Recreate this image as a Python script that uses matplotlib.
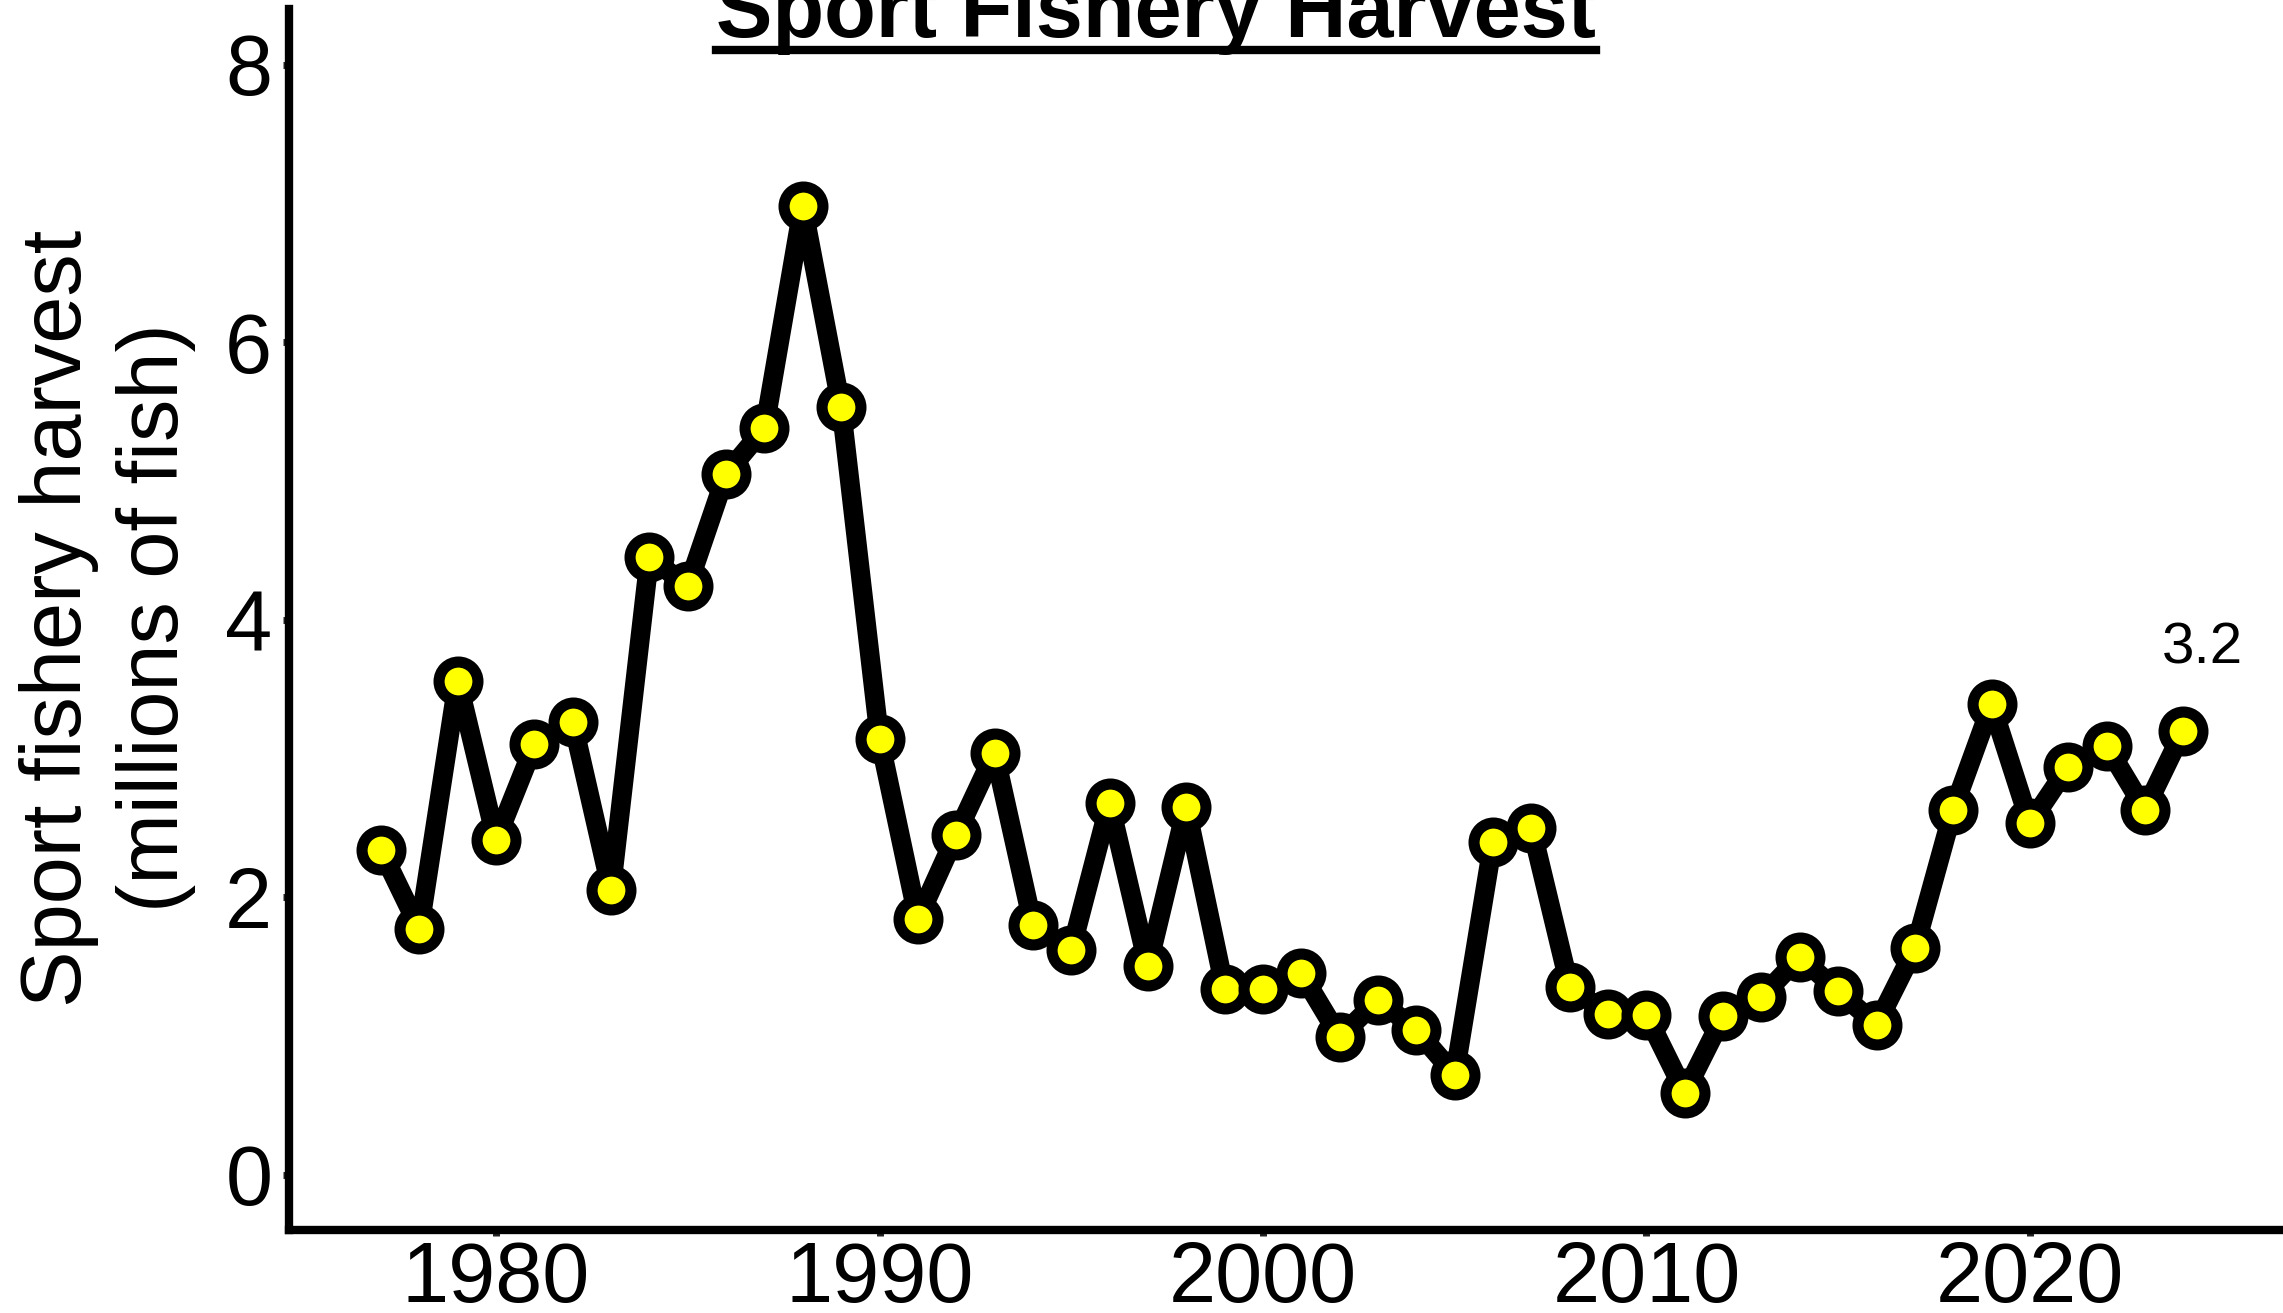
import matplotlib
matplotlib.use("Agg")
import matplotlib.pyplot as plt
from matplotlib.lines import Line2D

plt.rcParams["font.family"] = ["Liberation Sans", "DejaVu Sans"]

# sport fishery harvest, millions of fish
years = list(range(1977, 2025))
harvest = [
    2.34, 1.77, 3.56, 2.41, 3.10, 3.26, 2.05, 4.45, 4.24, 5.05,
    5.38, 6.98, 5.53, 3.14, 1.84, 2.45, 3.04, 1.80, 1.62, 2.68,
    1.50, 2.65, 1.34, 1.34, 1.45, 0.99, 1.26, 1.04, 0.72, 2.40,
    2.50, 1.35, 1.16, 1.15, 0.59, 1.14, 1.28, 1.57, 1.32, 1.08,
    1.63, 2.63, 3.39, 2.53, 2.94, 3.09, 2.63, 3.20,
]
y_ticks = [0, 2, 4, 6, 8]
x_ticks = [1980, 1990, 2000, 2010, 2020]
title = "Sport Fishery Harvest"
y_label = "Sport fishery harvest\n(millions of fish)"

W, H = 2283, 1313
fig = plt.figure(figsize=(W / 100, H / 100), dpi=100)
ax = fig.add_axes([289 / W, 1 - 1230 / H, 1 - 289 / W, (1230 - 9) / H])

ax.plot(years, harvest, color="black", lw=14, solid_joinstyle="round",
        solid_capstyle="round", marker="o", ms=28, mfc="#ffff00",
        mec="black", mew=8, zorder=3, clip_on=False)

# label on the latest year
ax.text(years[-1] + 0.5, harvest[-1] + 0.59, f"{harvest[-1]:.1f}",
        fontsize=42, ha="center", va="center")

ax.set_xlim(1974.6, 2026.6)
ax.set_ylim(-0.4, 8.4)
ax.set_xticks(x_ticks)
ax.set_yticks(y_ticks)
ax.tick_params(labelsize=61, length=4, width=5, color="#222222")
ax.tick_params(axis="y", pad=8)
ax.tick_params(axis="x", pad=3)

for side in ["top", "right"]:
    ax.spines[side].set_visible(False)
for side in ["left", "bottom"]:
    ax.spines[side].set_linewidth(6)
    ax.spines[side].set_capstyle("projecting")

fig.text(19 / W, 1 - 618 / H, y_label, rotation=90, fontsize=61,
         ha="left", va="center", multialignment="center", linespacing=1.27)

t = fig.text(1156 / W, 1 - 37 / H, title, fontsize=61, fontweight="bold",
             ha="center", va="baseline")

# underline the title
fig.canvas.draw()
bb = t.get_window_extent()
uy = 1 - 50 / H
fig.add_artist(Line2D([bb.x0 / W, bb.x1 / W], [uy, uy], color="black",
                      lw=6, transform=fig.transFigure))

fig.savefig("out.png", dpi=100)
